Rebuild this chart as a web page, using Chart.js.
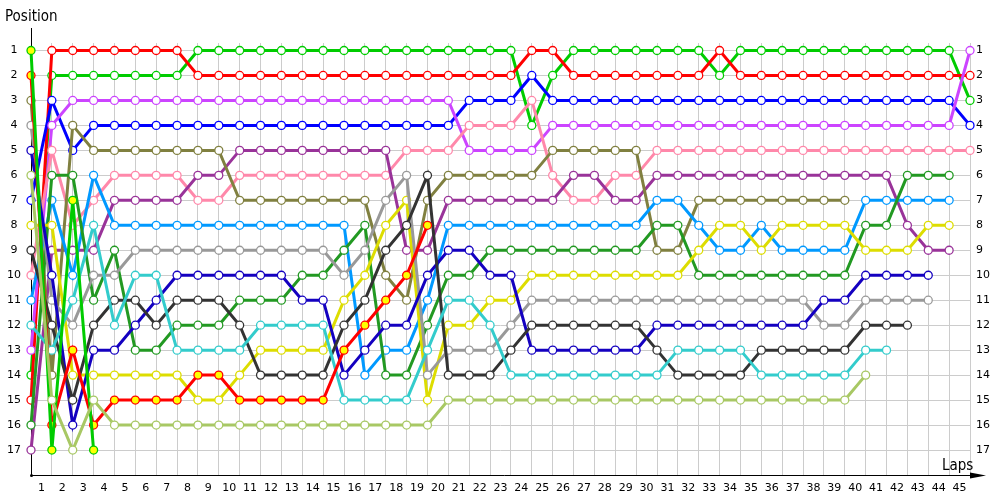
<!DOCTYPE html>
<html>
<head>
<meta charset="utf-8">
<script src="https://cdn.jsdelivr.net/npm/chart.js@4.4.1/dist/chart.umd.min.js"></script>
<style>
  html, body { margin: 0; padding: 0; background: #fff; }
</style>
</head>
<body>
<canvas id="chart" width="1000" height="500"></canvas>
<script>
const laps = [0,1,2,3,4,5,6,7,8,9,10,11,12,13,14,15,16,17,18,19,20,21,22,23,24,25,26,27,28,29,30,31,32,33,34,35,36,37,38,39,40,41,42,43,44,45];
const positions = [1,2,3,4,5,6,7,8,9,10,11,12,13,14,15,16,17];

// one array per driver, position at each lap (null = out)
const green = [14,2,2,2,2,2,2,2,1,1, 1,1,1,1,1,1,1,1,1,1, 1,1,1,1,4,2,1,1,1,1, 1,1,1,2,1,1,1,1,1,1, 1,1,1,1,1,3];
const red = [15,1,1,1,1,1,1,1,2,2, 2,2,2,2,2,2,2,2,2,2, 2,2,2,2,1,1,2,2,2,2, 2,2,2,1,2,2,2,2,2,2, 2,2,2,2,2,2];
const blue = [7,3,5,4,4,4,4,4,4,4, 4,4,4,4,4,4,4,4,4,4, 4,3,3,3,2,3,3,3,3,3, 3,3,3,3,3,3,3,3,3,3, 3,3,3,3,3,4];
const violet = [13,4,3,3,3,3,3,3,3,3, 3,3,3,3,3,3,3,3,3,3, 3,5,5,5,5,4,4,4,4,4, 4,4,4,4,4,4,4,4,4,4, 4,4,4,4,4,1];
const pink = [10,5,8,7,6,6,6,6,7,7, 6,6,6,6,6,6,6,6,5,5, 5,4,4,4,3,6,7,7,6,6, 5,5,5,5,5,5,5,5,5,5, 5,5,5,5,5,5];
const plum = [17,9,9,9,7,7,7,7,6,6, 5,5,5,5,5,5,5,5,9,9, 7,7,7,7,7,7,6,6,7,7, 6,6,6,6,6,6,6,6,6,6, 6,6,8,9,9,null];
const olive = [3,14,4,5,5,5,5,5,5,5, 7,7,7,7,7,7,7,10,11,7, 6,6,6,6,6,5,5,5,5,5, 9,9,7,7,7,7,7,7,7,7, null,null,null,null,null,null];
const skyblue = [11,7,10,6,8,8,8,8,8,8, 8,8,8,8,8,8,14,13,13,11, 8,8,8,8,8,8,8,8,8,8, 7,7,8,9,9,8,9,9,9,9, 7,7,7,7,7,null];
const darkgreen = [16,6,6,11,9,13,13,12,12,12, 11,11,11,10,10,9,8,14,14,12, 10,10,9,9,9,9,9,9,9,9, 8,8,10,10,10,10,10,10,10,10, 8,8,6,6,6,null];
const grey = [4,11,12,10,10,9,9,9,9,9, 9,9,9,9,9,10,9,7,6,14, 13,13,13,12,11,11,11,11,11,11, 11,11,11,11,11,11,11,11,12,12, 11,11,11,11,null,null];
const navy = [5,10,16,13,13,12,11,10,10,10, 10,10,10,11,11,14,13,12,12,10, 9,9,10,10,13,13,13,13,13,13, 12,12,12,12,12,12,12,12,11,11, 10,10,10,10,null,null];
const black = [9,12,15,12,11,11,12,11,11,11, 12,14,14,14,14,12,11,9,8,6, 14,14,14,13,12,12,12,12,12,12, 13,14,14,14,14,13,13,13,13,13, 12,12,12,null,null,null];
const cyan = [12,13,11,8,12,10,10,13,13,13, 13,12,12,12,12,15,15,15,15,13, 11,11,12,14,14,14,14,14,14,14, 14,13,13,13,13,14,14,14,14,14, 13,13,null,null,null,null];
const yellow = [8,8,14,14,14,14,14,14,15,15, 14,13,13,13,13,11,10,8,7,15, 12,12,11,11,10,10,10,10,10,10, 10,10,9,8,8,9,8,8,8,8, 9,9,9,8,8,null];
const redYellow = [2,16,13,16,15,15,15,15,14,14, 15,15,15,15,15,13,12,11,10,8, null,null,null,null,null,null,null,null,null,null, null,null,null,null,null,null,null,null,null,null, null,null,null,null,null,null];
const lime = [6,15,17,15,16,16,16,16,16,16, 16,16,16,16,16,16,16,16,16,16, 15,15,15,15,15,15,15,15,15,15, 15,15,15,15,15,15,15,15,15,15, 14,null,null,null,null,null];
const greenYellow = [1,17,7,17,null,null,null,null,null,null, null,null,null,null,null,null,null,null,null,null, null,null,null,null,null,null,null,null,null,null, null,null,null,null,null,null,null,null,null,null, null,null,null,null,null,null];

function driver(data, color, fill) {
  return {
    data: data,
    borderColor: color,
    pointBorderColor: color,
    pointBackgroundColor: fill || '#ffffff',
    borderWidth: 3,
    pointRadius: 4,
    pointBorderWidth: 1.3,
    pointHoverRadius: 4,
    tension: 0,
    clip: false
  };
}

const axisDecor = {
  id: 'axisDecor',
  beforeDatasetsDraw(chart) {
    const ctx = chart.ctx;
    const a = chart.chartArea;
    ctx.save();
    ctx.strokeStyle = '#000';
    ctx.fillStyle = '#000';
    ctx.lineWidth = 1;
    ctx.beginPath();
    ctx.moveTo(a.left + 0.5, 28);
    ctx.lineTo(a.left + 0.5, a.bottom + 0.5);
    ctx.lineTo(978, a.bottom + 0.5);
    ctx.stroke();
    // arrow heads
    ctx.beginPath();
    ctx.moveTo(986, a.bottom + 0.5);
    ctx.lineTo(970, a.bottom - 2.5);
    ctx.lineTo(970, a.bottom + 3.5);
    ctx.closePath();
    ctx.fill();
    ctx.beginPath();
    ctx.arc(a.left + 0.5, a.bottom + 0.5, 1.5, 0, Math.PI * 2);
    ctx.fill();
    ctx.restore();
  },
  afterDraw(chart) {
    const ctx = chart.ctx;
    ctx.save();
    ctx.fillStyle = '#000';
    ctx.font = '15px "DejaVu Sans Condensed", "DejaVu Sans"';
    ctx.textBaseline = 'alphabetic';
    ctx.fillText('Position', 5, 21);
    ctx.fillText('Laps', 942, 470);
    ctx.restore();
  }
};

const ctx = document.getElementById('chart').getContext('2d');

const chart = new Chart(ctx, {
  type: 'line',
  data: {
    labels: laps,
    datasets: [
      driver(lime, '#a8c864'),
      driver(greenYellow, '#00cc00', '#ffff00'),
      driver(redYellow, '#ff0000', '#ffff00'),
      driver(cyan, '#33cccc'),
      driver(black, '#333333'),
      driver(navy, '#1400c0'),
      driver(grey, '#999999'),
      driver(yellow, '#dddd00'),
      driver(darkgreen, '#229922'),
      driver(skyblue, '#0099ff'),
      driver(olive, '#808040'),
      driver(plum, '#993399'),
      driver(pink, '#ff88aa'),
      driver(violet, '#cc44ff'),
      driver(blue, '#0000ff'),
      driver(red, '#ff0000'),
      driver(green, '#00cc00')
    ]
  },
  options: {
    responsive: false,
    animation: false,
    events: [],
    layout: { padding: { top: 43, left: 0, right: 0, bottom: 0 } },
    plugins: {
      legend: { display: false },
      tooltip: { enabled: false }
    },
    scales: {
      x: {
        type: 'linear',
        min: 0,
        max: 45,
        afterBuildTicks(scale) {
          const t = [];
          for (let i = 0; i < laps.length; i++) {
            t.push({ value: laps[i] });
            if (i < laps.length - 1) t.push({ value: laps[i] + 0.5 });
          }
          scale.ticks = t;
        },
        afterFit(scale) { scale.height = 25; },
        grid: {
          color: (c) => (c.tick && Number.isInteger(c.tick.value)) ? '#cccccc' : 'rgba(0,0,0,0)',
          drawTicks: false
        },
        border: { display: false },
        ticks: {
          autoSkip: false,
          maxRotation: 0,
          padding: 7,
          color: '#000',
          font: { family: 'DejaVu Sans', size: 11 },
          callback: (v) => Number.isInteger(v) ? '' : String(v + 0.5)
        }
      },
      y: {
        type: 'linear',
        reverse: true,
        min: 0.7,
        max: 18,
        position: 'left',
        afterBuildTicks(scale) { scale.ticks = positions.map(p => ({ value: p })); },
        afterFit(scale) { scale.width = 31; },
        grid: { color: '#cccccc', drawTicks: false },
        border: { display: false },
        ticks: {
          crossAlign: 'center',
          padding: 10,
          color: '#000',
          font: { family: 'DejaVu Sans', size: 11 }
        }
      },
      y2: {
        type: 'linear',
        reverse: true,
        min: 0.7,
        max: 18,
        position: 'right',
        afterBuildTicks(scale) { scale.ticks = positions.map(p => ({ value: p })); },
        afterFit(scale) { scale.width = 30; },
        grid: { display: false, drawTicks: false },
        border: { display: false },
        ticks: {
          padding: 6,
          color: '#000',
          font: { family: 'DejaVu Sans', size: 11 }
        }
      }
    }
  },
  plugins: [axisDecor]
});
</script>
</body>
</html>
